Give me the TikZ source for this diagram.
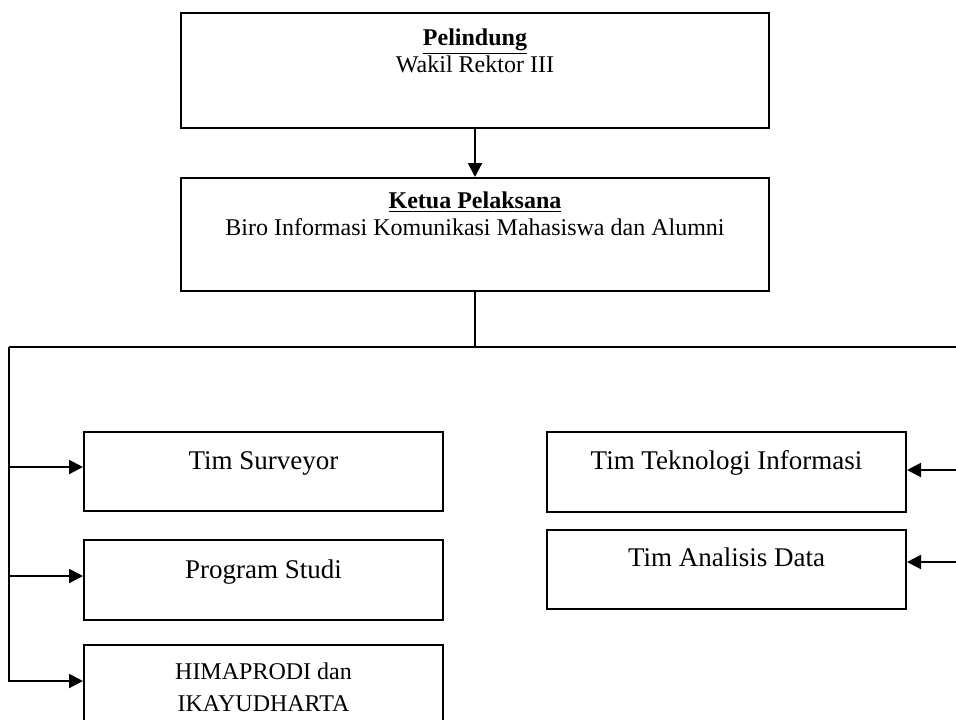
\documentclass[tikz,border=0pt]{standalone}
\usepackage{fontspec}
\setmainfont{Liberation Serif}
\usetikzlibrary{arrows.meta}
\usetikzlibrary{positioning}
\tikzset{
  unit/.style={draw, line width=1pt, inner sep=0pt, anchor=north west, align=flush center},
  wide/.style={unit, text width=294pt},
  team/.style={unit, text width=179.5pt, font=\fontsize{13.5}{15}\selectfont},
}

\begin{document}
\begin{tikzpicture}[x=0.5pt, y=-0.5pt, line width=1pt, >={Triangle[length=7pt,width=7pt]}, font=\fontsize{12}{13.75}\selectfont]
        \useasboundingbox (0,0) rectangle (956,719);

        \node[wide, text height=16pt, text depth=41.5pt] (pel) at (180,12) {\underline{\textbf{Pelindung}}\\Wakil Rektor III};
        \node[wide, text height=15pt, text depth=41.5pt] (ket) at (180,177) {\underline{\textbf{Ketua Pelaksana}}\\Biro Informasi Komunikasi Mahasiswa dan Alumni};

        \node[team, text height=18.5pt, text depth=21pt] (sur) at (83,431) {Tim Surveyor};
        \node[team, text height=19pt, text depth=21pt] (prodi) at (83,539) {Program Studi};
        \node[team, text height=17pt, text depth=23pt, font=\fontsize{12}{16}\selectfont] (hima) at (83,644) {HIMAPRODI dan\\IKAYUDHARTA};

        \node[team, text height=18.5pt, text depth=21.5pt] (ti) at (546,431) {Tim Teknologi Informasi};
        \node[team, text height=18pt, text depth=21.5pt] (data) at (546,529) {Tim Analisis Data};

        \coordinate (bus-l) at (9,347);
        \coordinate (bus-r) at (956,347);

        \draw[->] (pel) -- (ket);
        \draw (ket.south) -- (ket.south |- bus-l);
        \draw (bus-l) -- (bus-r);

        \draw[->] (bus-l) |- ([yshift=2pt]hima.west);
        \draw[->] ([yshift=2.25pt]sur.west -| bus-l) -- ([yshift=2.25pt]sur.west);
        \draw[->] ([yshift=2pt]prodi.west -| bus-l) -- ([yshift=2pt]prodi.west);

        \draw[->] ([yshift=1pt]ti.east -| bus-r) -- ([yshift=1pt]ti.east);
        \draw[->] ([yshift=3.75pt]data.east -| bus-r) -- ([yshift=3.75pt]data.east);
      \end{tikzpicture}
\end{document}
